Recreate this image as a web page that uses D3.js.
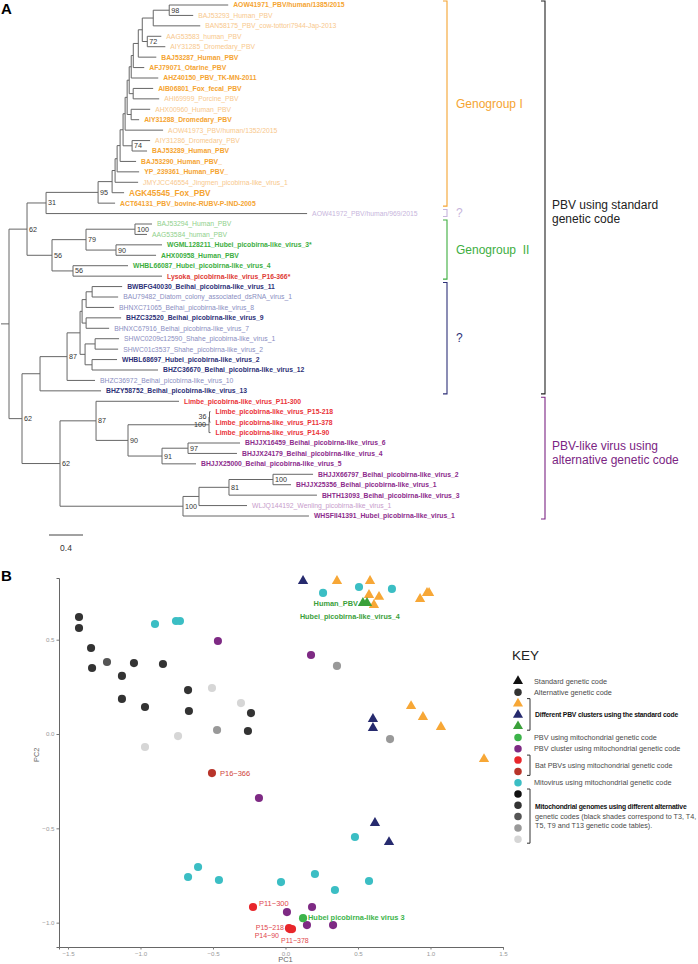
<!DOCTYPE html>
<html><head><meta charset="utf-8">
<script src="https://cdn.jsdelivr.net/npm/d3@7"></script>
<style>
body{margin:0;background:#fff}
svg{display:block}
text{font-family:"Liberation Sans",Arial,Helvetica,sans-serif}
</style>
</head><body>
<svg id="chart" width="698" height="964"></svg>
<script>
// ===================== DATA: panel A (phylogeny) =====================
const tipNames = [
 "AOW41971_PBV/human/1385/2015","BAJ53293_Human_PBV","BAN58175_PBV_cow-tottori7944-Jap-2013",
 "AAG53583_human_PBV","AIY31285_Dromedary_PBV","BAJ53287_Human_PBV","AFJ79071_Otarine_PBV",
 "AHZ40150_PBV_TK-MN-2011","AIB06801_Fox_fecal_PBV","AHI69999_Porcine_PBV","AHX00960_Human_PBV",
 "AIY31288_Dromedary_PBV","AOW41973_PBV/human/1352/2015","AIY31286_Dromedary_PBV","BAJ53289_Human_PBV",
 "BAJ53290_Human_PBV_","YP_239361_Human_PBV_","JMYJCC46554_Jingmen_picobirna-like_virus_1",
 "AGK45545_Fox_PBV","ACT64131_PBV_bovine-RUBV-P-IND-2005","AOW41972_PBV/human/969/2015",
 "BAJ53294_Human_PBV","AAG53584_human_PBV","WGML128211_Hubei_picobirna-like_virus_3*",
 "AHX00958_Human_PBV","WHBL66087_Hubei_picobirna-like_virus_4","Lysoka_picobirna-like_virus_P16-366*",
 "BWBFG40030_Beihai_picobirna-like_virus_11","BAU79482_Diatom_colony_associated_dsRNA_virus_1",
 "BHNXC71065_Beihai_picobirna-like_virus_8","BHZC32520_Beihai_picobirna-like_virus_9",
 "BHNXC67916_Beihai_picobirna-like_virus_7","SHWC0209c12590_Shahe_picobirna-like_virus_1",
 "SHWC01c3537_Shahe_picobirna-like_virus_2","WHBL68697_Hubei_picobirna-like_virus_2",
 "BHZC36670_Beihai_picobirna-like_virus_12","BHZC36972_Beihai_picobirna-like_virus_10",
 "BHZY58752_Beihai_picobirna-like_virus_13","Limbe_picobirna-like_virus_P11-300",
 "Limbe_picobirna-like_virus_P15-218","Limbe_picobirna-like_virus_P11-378",
 "Limbe_picobirna-like_virus_P14-90","BHJJX16459_Beihai_picobirna-like_virus_6",
 "BHJJX24179_Beihai_picobirna-like_virus_4","BHJJX25000_Beihai_picobirna-like_virus_5",
 "BHJJX66797_Beihai_picobirna-like_virus_2","BHJJX25356_Beihai_picobirna-like_virus_1",
 "BHTH13093_Beihai_picobirna-like_virus_3","WLJQ144192_Wenling_picobirna-like_virus_1",
 "WHSFII41391_Hubei_picobirna-like_virus_1"
];
// group of each tip (sets label colour / weight)
const tipGroups = [
 "g1","g1l","g1l","g1l","g1l","g1","g1","g1","g1","g1l","g1l","g1","g1l","g1l","g1",
 "g1","g1","g1l","g1big","g1","q1",
 "g2l","g2l","g2","g2","g2","lys",
 "nv","nvl","nvl","nv","nvl","nvl","nvl","nv","nv","nvl","nv",
 "red","red","red","red",
 "pu","pu","pu","pu","pu","pu","pul","pu"
];
// tree edges: [node, parent, branch length (subst./site)]; tips are t1..t50 in tipNames order
const treeEdges = [
 ["root","",0],
 ["nA62","root",0.212],["n31","nA62",0.224],["n95","n31",0.612],["nO","n95",0.165],
 ["nN","nO",0.035],["nM","nN",0.024],["nL","nM",0.035],["nK","nL",0.035],["nJ","nK",0.024],
 ["nI","nJ",0.024],["nG","nI",0.024],["nE","nG",0.024],["nD","nE",0.024],["nC","nD",0.059],
 ["nB","nC",0.047],["nA","nB",0.129],["n98","nA",0.188],
 ["t1","n98",0.694],["t2","n98",0.282],["t3","nA",0.553],["n72","nB",0.059],
 ["t4","n72",0.165],["t5","n72",0.212],["t6","nC",0.212],["t7","nD",0.129],["t8","nE",0.318],
 ["nF","nG",0.047],["t9","nF",0.235],["t10","nF",0.306],["nH","nI",0.047],["t11","nH",0.224],
 ["t12","nH",0.094],["t13","nJ",0.447],["n74","nK",0.106],["t14","n74",0.212],["t15","n74",0.176],
 ["t16","nL",0.188],["t17","nM",0.259],["t18","nN",0.271],["t19","nO",0.141],["t20","n95",0.2],
 ["t21","n31",3.071],
 ["n56","nA62",0.294],["n79","n56",0.4],["n100a","n79",0.576],["t22","n100a",0.2],["t23","n100a",0.141],
 ["n90a","n79",0.353],["t24","n90a",0.541],["t25","n90a",0.471],["n56b","n56",0.247],
 ["t26","n56b",0.647],["t27","n56b",1.047],
 ["nY62","root",0.153],["nX","nY62",0.212],["n87","nX",0.318],["nW","n87",0.153],["nS","nW",0.024],
 ["nQ","nS",0.047],["nP","nQ",0.071],["t28","nP",0.353],["t29","nP",0.306],["t30","nQ",0.329],
 ["nR","nS",0.047],["t31","nR",0.412],["t32","nR",0.271],["nV","nW",0.059],["nT","nV",0.118],
 ["t33","nT",0.282],["t34","nT",0.271],["nU","nV",0.082],["t35","nU",0.294],["t36","nU",0.776],
 ["t37","n87",0.329],["t38","nX",0.718],
 ["n62c","nY62",0.447],["n87b","n62c",0.424],["t39","n87b",0.976],["n90","n87b",0.376],
 ["n100L","n90",0.953],["n36","n100L",0.006],["t40","n36",0.012],["t41","n36",0.012],["t42","n100L",0.018],
 ["n91","n90",0.4],["n97","n91",0.306],["t43","n97",0.612],["t44","n97",0.576],["t45","n91",0.4],
 ["n100d","n62c",1.447],["n199","n100d",0.188],["n81","n199",0.353],["n100c","n81",0.518],
 ["t46","n100c",0.471],["t47","n100c",0.212],["t48","n81",1.035],["t49","n199",0.565],["t50","n100d",1.482]
];
const supportNodes  = ["n98","n72","n74","n95","n31","nA62","n100a","n79","n90a","n56","n56b","n87","nY62","n87b","n36","n100L","n90","n97","n91","n62c","n81","n100c","n100d"];
const supportValues = ["98","72","74","95","31","62","100","79","90","56","56","87","62","87","36","100","90","97","91","62","81","100","100"];
const scaleBarValue = 0.4;
// clade brackets
const cladeLabels = [["Genogroup I"],["?"],["Genogroup\u00a0\u00a0II"],["?"],["PBV using standard","genetic code"],["PBV-like virus using","alternative genetic code"]];
const cladeFirstTip = ["t1","t21","t22","t28","t1","t39"];
const cladeLastTip  = ["t20","t21","t27","t38","t38","t50"];
const cladeColors   = ["#F5A431","#C7B5DC","#3DAE3F","#2E3178","#222222","#7B2483"];
const cladeLevel    = [0,0,0,0,1,1];

// ===================== DATA: panel B (PCA) =====================
const stdOrange = [[0.355,0.811],[0.583,0.811],[0.576,0.737],[0.645,0.727],[0.610,0.684],[0.928,0.716],[0.976,0.748],[0.990,0.748],[0.866,0.148],[0.948,0.090],[1.072,0.037],[1.369,-0.133]];
const stdNavy   = [[0.121,0.811],[0.603,0.080],[0.603,0.032],[0.617,-0.472],[0.714,-0.573]];
const stdGreen  = [[0.534,0.695],[0.562,0.695]];
const stdGreenNames = ["Human_PBV","Hubei_picobirna-like_virus_4"];
const mitovirus = [[0.259,0.748],[0.507,0.779],[0.734,0.769],[-0.900,0.583],[-0.755,0.599],[-0.728,0.599],[0.479,-0.546],[0.576,-0.779],[-0.603,-0.705],[-0.672,-0.758],[-0.459,-0.774],[-0.031,-0.785],[0.203,-0.742],[0.341,-0.827]];
const pbvMitoCluster = [[-0.466,0.493],[0.176,0.419],[-0.183,-0.339],[0.010,-0.944],[0.183,-0.917],[0.148,-1.013],[0.328,-1.013]];
const batLimbe = [[-0.224,-0.917],[0.024,-1.029],[0.031,-1.034],[0.045,-1.034]];
const batLimbeNames = ["P11\u2212300","P15\u2212218","P14\u221290","P11\u2212378"];
const batLysoka = [[-0.507,-0.207]];
const batLysokaNames = ["P16\u2212366"];
const pbvMitoGreen = [[0.121,-0.976]];
const pbvMitoGreenNames = ["Hubei picobirna-like virus 3"];
// [PC1, PC2, shade index]
const mitoGenomes = [[-1.424,0.620,1],[-1.424,0.562,1],[-1.341,0.456,1],[-1.334,0.350,1],[-1.231,0.382,2],[-1.128,0.308,1],[-1.045,0.376,1],[-0.845,0.371,1],[-0.672,0.233,1],[-0.507,0.244,4],[-1.128,0.186,1],[-0.969,0.143,1],[-0.666,0.122,1],[-0.307,0.164,4],[-0.238,0.111,1],[-0.472,0.021,3],[-0.259,0.016,1],[-0.741,-0.011,4],[-0.969,-0.069,4],[0.721,-0.027,3],[0.355,0.361,3]];
const xTicks = [-1.5,-1.0,-0.5,0.0,0.5,1.0,1.5];
const yTicks = [-1.0,-0.5,0.0,0.5];
// legend
const legendShapes = ["tri","circ","tri","tri","tri","circ","circ","circ","circ","circ","circ","circ","circ","circ","circ"];
const legendColors = ["#111111","#333333","#F7A736","#262A6E","#3AA03A","#3CB44A","#7E2A84","#E8262B","#B8342A","#3BBEC4","#111111","#333333","#555555","#999999","#D6D6D6"];
const legendSingleText = {0:"Standard genetic code",1:"Alternative genetic code",5:"PBV using mitochondrial genetic code",6:"PBV cluster using mitochondrial genetic code",9:"Mitovirus using mitochondrial genetic code"};
const legendGroupFrom = [2,7,10];
const legendGroupTo   = [4,8,14];
const legendGroupText = [[["Different PBV clusters using the standard code",true]],[["Bat PBVs using mitochondrial genetic code",false]],[["Mitochondrial genomes using different alternative",true],["genetic codes (black shades correspond to T3, T4,",false],["T5, T9 and T13 genetic code tables).",false]]];

// ===================== STYLE =====================
const C = {orange:"#F7A736",navy:"#262A6E",greenTri:"#3AA03A",greenDot:"#3CB44A",purple:"#7E2A84",red:"#E8262B",darkred:"#B8342A",cyan:"#3BBEC4"};
const shades = ["#111111","#333333","#555555","#999999","#D6D6D6"];
const tipStyle = {
 g1:{c:"#F5A431",w:"bold",s:6.8}, g1big:{c:"#F5A431",w:"bold",s:8.2}, g1l:{c:"#F8C88C",w:"normal",s:6.8},
 q1:{c:"#C7B5DC",w:"normal",s:6.8}, g2:{c:"#3DAE3F",w:"bold",s:6.8}, g2l:{c:"#8FD08B",w:"normal",s:6.8},
 lys:{c:"#E03B36",w:"bold",s:6.8}, nv:{c:"#2E3178",w:"bold",s:6.8}, nvl:{c:"#8A8EBF",w:"normal",s:6.8},
 red:{c:"#EA3339",w:"bold",s:6.8}, pu:{c:"#8C2B8C",w:"bold",s:6.8}, pul:{c:"#C79CCB",w:"normal",s:6.8}
};

const svg = d3.select("#chart");

// ===================== PANEL A =====================
svg.append("text").attr("x",1).attr("y",14).attr("font-size",15).attr("font-weight","bold").text("A");

const tipIds = tipNames.map((_,i)=>"t"+(i+1));
const rows = treeEdges.map(([id,parent,len])=>({id,parent:parent||null,len}));
const root = d3.stratify().id(d=>d.id).parentId(d=>d.parent)(rows);
const xTree = d3.scaleLinear().domain([0,1]).range([9,94]);
const yTree = d3.scaleLinear().domain([0,tipNames.length-1]).range([5,516]);
root.eachBefore(n=>{ n.dist = n.parent ? n.parent.dist + n.data.len : 0; });
root.eachAfter(n=>{
  n.xp = xTree(n.dist);
  if(!n.children){ n.yp = yTree(tipIds.indexOf(n.id)); }
  else { const ys=n.children.map(c=>c.yp); n.yp=(d3.min(ys)+d3.max(ys))/2; }
});
const gTree = svg.append("g").attr("fill","none").attr("stroke","#666").attr("stroke-width",1);
// root stub
gTree.append("line").attr("x1",1).attr("x2",root.xp).attr("y1",root.yp).attr("y2",root.yp);
root.descendants().forEach(n=>{
  if(n.parent){
    gTree.append("line").attr("x1",n.parent.xp).attr("x2",n.xp).attr("y1",n.yp).attr("y2",n.yp);
  }
  if(n.children){
    const ys=n.children.map(c=>c.yp);
    gTree.append("line").attr("x1",n.xp).attr("x2",n.xp).attr("y1",d3.min(ys)).attr("y2",d3.max(ys));
  }
});
// tip labels
const byId = new Map(root.descendants().map(n=>[n.id,n]));
tipIds.forEach((id,i)=>{
  const n=byId.get(id), st=tipStyle[tipGroups[i]];
  svg.append("text").attr("x",n.xp+5).attr("y",n.yp).attr("dy","0.35em")
    .attr("font-size",st.s).attr("font-weight",st.w).attr("fill",st.c).text(tipNames[i]);
});
// support values
supportNodes.forEach((id,i)=>{
  const n=byId.get(id);
  const tiny = n.children.every(c=>!c.children && c.data.len<0.05) || n.children.some(c=>c.children && c.data.len<0.02);
  svg.append("text").attr("x", tiny ? n.xp-3 : n.xp+2).attr("y",n.yp).attr("dy","0.35em")
    .attr("text-anchor", tiny ? "end" : "start")
    .attr("font-family","'Liberation Mono','DejaVu Sans Mono',monospace").attr("font-size",7.2).attr("fill","#333")
    .text(supportValues[i]);
});
// scale bar
const sbX = 49;
svg.append("line").attr("x1",sbX).attr("x2",sbX + xTree(scaleBarValue)-xTree(0)).attr("y1",535).attr("y2",535).attr("stroke","#444").attr("stroke-width",1);
svg.append("text").attr("x",sbX + (xTree(scaleBarValue)-xTree(0))/2).attr("y",551).attr("text-anchor","middle").attr("font-size",8.5).attr("fill","#333").text(scaleBarValue);
// clade brackets
const bracketX=[447,545], labelX=[456,552], labelShift=[0,0,0,0,14,-5];
cladeLabels.forEach((lab,i)=>{
  const top = byId.get(cladeFirstTip[i]).yp-4, bot = byId.get(cladeLastTip[i]).yp+3;
  const x = bracketX[cladeLevel[i]];
  svg.append("path").attr("d",`M${x-4},${top}H${x}V${bot}H${x-4}`).attr("fill","none")
    .attr("stroke",cladeColors[i]).attr("stroke-width",1.1);
  const cy = (top+bot)/2 + labelShift[i];
  const fs = 12, lh = 14;
  lab.forEach((line,j)=>{
    svg.append("text").attr("x",labelX[cladeLevel[i]]).attr("y",cy + (j-(lab.length-1)/2)*lh).attr("dy","0.35em")
      .attr("font-size",fs).attr("fill",cladeColors[i]).text(line);
  });
});

// ===================== PANEL B =====================
svg.append("text").attr("x",1).attr("y",581).attr("font-size",15).attr("font-weight","bold").text("B");
const xS = d3.scaleLinear().domain([-1.562,1.5]).range([59,503]);
const yS = d3.scaleLinear().domain([-1.129,0.827]).range([947,578]);
const gAx = svg.append("g");
const xAxis = d3.axisBottom(xS).tickValues(xTicks).tickSize(2.5).tickPadding(2).tickFormat(d3.format(".1f"));
const yAxis = d3.axisLeft(yS).tickValues(yTicks).tickSize(2.5).tickPadding(2).tickFormat(d3.format(".1f"));
const gx = gAx.append("g").attr("transform","translate(0,947)").call(xAxis);
const gy = gAx.append("g").attr("transform","translate(59,0)").call(yAxis);
[gx,gy].forEach(g=>{
  g.select(".domain").attr("stroke","#666");
  g.selectAll(".tick line").attr("stroke","#777");
  g.selectAll(".tick text").attr("fill","#999").attr("font-size",6.2).attr("font-family","'Liberation Sans',Arial,sans-serif");
});
gAx.append("text").attr("x",xS(0)).attr("y",962).attr("text-anchor","middle").attr("font-size",7.5).attr("fill","#666").text("PC1");
gAx.append("text").attr("transform",`translate(39,${yS(-0.11)}) rotate(-90)`).attr("text-anchor","middle").attr("font-size",7.5).attr("fill","#666").text("PC2");

const triSym = d3.symbol().type(d3.symbolTriangle).size(46);
const cirSym = d3.symbol().type(d3.symbolCircle).size(52);
const gPts = svg.append("g");
function dots(data, color, sym){
  gPts.selectAll(null).data(data).enter().append("path")
    .attr("d",sym).attr("transform",d=>`translate(${xS(d[0])},${yS(d[1])})`)
    .attr("fill",typeof color==="function"?color:()=>color);
}
dots(mitoGenomes, d=>shades[d[2]], cirSym);
dots(mitovirus, C.cyan, cirSym);
dots(pbvMitoCluster, C.purple, cirSym);
dots(stdOrange, C.orange, triSym);
dots(stdNavy, C.navy, triSym);
dots(stdGreen, C.greenTri, triSym);
dots(batLysoka, C.darkred, cirSym);
dots(batLimbe, C.red, cirSym);
dots(pbvMitoGreen, C.greenDot, cirSym);

// point labels
const lbl = (x,y,t,opt)=>svg.append("text").attr("x",x).attr("y",y).attr("font-size",opt.s||7.5)
  .attr("font-weight",opt.w||"normal").attr("fill",opt.c).attr("text-anchor",opt.a||"start").text(t);
lbl(xS(stdGreen[0][0])-5, yS(stdGreen[0][1])+3, stdGreenNames[0], {c:C.greenTri,w:"bold",s:7.4,a:"end"});
lbl(xS(stdGreen[0][0])-63, yS(stdGreen[0][1])+16, stdGreenNames[1], {c:C.greenTri,w:"bold",s:7.2});
lbl(xS(batLysoka[0][0])+8, yS(batLysoka[0][1])+3, batLysokaNames[0], {c:"#D0453C"});
lbl(xS(batLimbe[0][0])+6, yS(batLimbe[0][1])-1, batLimbeNames[0], {c:"#E0474C"});
lbl(xS(batLimbe[1][0])-5, yS(batLimbe[1][1])+2, batLimbeNames[1], {c:"#E0474C",a:"end",s:7});
lbl(xS(batLimbe[2][0])-11, yS(batLimbe[2][1])+9.3, batLimbeNames[2], {c:"#E0474C",a:"end",s:7});
lbl(xS(batLimbe[3][0])-11, yS(batLimbe[3][1])+13.5, batLimbeNames[3], {c:"#E0474C",s:7});
lbl(xS(pbvMitoGreen[0][0])+5, yS(pbvMitoGreen[0][1])+2, pbvMitoGreenNames[0], {c:C.greenDot,w:"bold",s:7.4});

// legend
svg.append("text").attr("x",512).attr("y",660).attr("font-size",13.5).attr("fill","#222").text("KEY");
const legY = i => 681 + i*11.3, legX = 518;
const legTri = d3.symbol().type(d3.symbolTriangle).size(44);
const legCir = d3.symbol().type(d3.symbolCircle).size(44);
legendShapes.forEach((s,i)=>{
  svg.append("path").attr("d", s==="tri"?legTri:legCir).attr("transform",`translate(${legX},${legY(i)})`).attr("fill",legendColors[i]);
});
Object.entries(legendSingleText).forEach(([i,t])=>{
  svg.append("text").attr("x",534).attr("y",legY(+i)).attr("dy","0.35em").attr("font-size",7.3).attr("fill","#4a4a4a").text(t);
});
legendGroupFrom.forEach((f,k)=>{
  const top=legY(f)-5, bot=legY(legendGroupTo[k])+4, bx=530;
  svg.append("path").attr("d",`M${bx-3},${top}H${bx}V${bot}H${bx-3}`).attr("fill","none").attr("stroke","#333").attr("stroke-width",1);
  const lines=legendGroupText[k], cy=(top+bot)/2;
  lines.forEach(([t,b],j)=>{
    svg.append("text").attr("x",535).attr("y",cy+(j-(lines.length-1)/2)*9).attr("dy","0.35em")
      .attr("font-size",b?6.8:7.2).attr("font-weight",b?"bold":"normal").attr("fill",b?"#111":"#4a4a4a")
      .attr("letter-spacing",b?-0.2:0).text(t);
  });
});
</script>
</body></html>
